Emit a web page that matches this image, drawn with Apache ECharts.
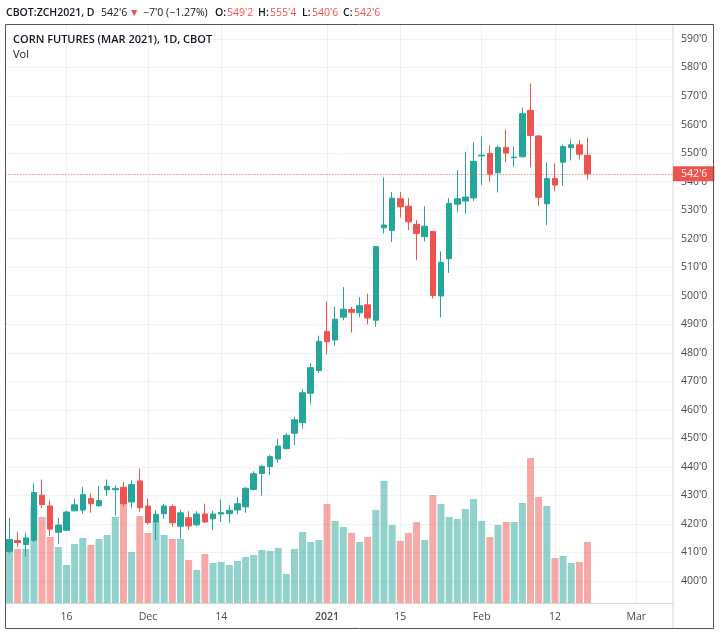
<!DOCTYPE html>
<html>
<head>
<meta charset="utf-8">
<style>
  html, body { margin: 0; padding: 0; background: #fff; }
  #main { width: 720px; height: 635px; }
</style>
<script src="https://cdn.jsdelivr.net/npm/echarts@6/dist/echarts.min.js"></script>
</head>
<body>
<div id="main"></div>
<script>
window.onload = function () {
    let myChart = echarts.init(document.getElementById('main'));

    // date, open, close, low, high, volume
    let rows = [
        ['2020-11-05', 410.4, 414.6, 409.6, 422.2, 54],
        ['2020-11-06', 414.2, 413.5, 412.0, 417.3, 54],
        ['2020-11-09', 412.8, 415.1, 408.5, 417.0, 54],
        ['2020-11-10', 414.3, 431.0, 413.7, 434.2, 98],
        ['2020-11-11', 430.1, 426.8, 425.6, 435.6, 86],
        ['2020-11-12', 426.3, 418.2, 415.8, 428.3, 66],
        ['2020-11-13', 417.1, 419.6, 413.1, 422.2, 56],
        ['2020-11-16', 417.8, 424.2, 417.6, 424.7, 38],
        ['2020-11-17', 424.6, 426.7, 424.5, 428.9, 59],
        ['2020-11-18', 424.9, 430.3, 423.6, 433.0, 65],
        ['2020-11-19', 428.9, 427.1, 423.9, 430.7, 58],
        ['2020-11-20', 426.4, 428.2, 426.0, 433.2, 64],
        ['2020-11-23', 432.0, 433.2, 429.8, 435.6, 68],
        ['2020-11-24', 432.0, 432.5, 423.0, 433.5, 86],
        ['2020-11-25', 432.9, 427.1, 426.2, 434.7, 102],
        ['2020-11-27', 427.7, 433.8, 425.5, 435.3, 51],
        ['2020-11-30', 435.1, 425.7, 424.2, 439.4, 87],
        ['2020-12-01', 426.3, 420.5, 419.9, 428.9, 70],
        ['2020-12-02', 420.7, 423.4, 414.3, 424.8, 82],
        ['2020-12-03', 423.6, 426.3, 421.8, 427.1, 68],
        ['2020-12-04', 426.1, 420.4, 419.0, 426.8, 64],
        ['2020-12-07', 419.2, 423.9, 414.9, 425.0, 64],
        ['2020-12-08', 422.2, 419.3, 418.0, 424.5, 43],
        ['2020-12-09', 419.7, 423.5, 419.2, 424.5, 33],
        ['2020-12-10', 423.5, 420.7, 420.4, 427.1, 49],
        ['2020-12-11', 421.8, 423.5, 417.8, 424.6, 40],
        ['2020-12-14', 423.5, 424.0, 420.7, 428.6, 41],
        ['2020-12-15', 423.6, 424.8, 420.4, 426.6, 38],
        ['2020-12-16', 424.9, 427.1, 423.4, 429.3, 42],
        ['2020-12-17', 426.0, 432.5, 423.9, 433.0, 46],
        ['2020-12-18', 432.1, 437.6, 431.8, 438.5, 48],
        ['2020-12-21', 437.7, 440.2, 429.9, 440.7, 53],
        ['2020-12-22', 440.1, 443.6, 437.2, 444.2, 52],
        ['2020-12-23', 442.8, 447.3, 441.5, 449.8, 55],
        ['2020-12-24', 446.4, 451.1, 446.2, 451.8, 29],
        ['2020-12-28', 451.8, 456.5, 447.7, 457.6, 54],
        ['2020-12-29', 455.5, 466.0, 453.4, 467.3, 71],
        ['2020-12-30', 465.8, 474.8, 462.1, 476.3, 61],
        ['2020-12-31', 473.8, 484.0, 472.9, 486.0, 63],
        ['2021-01-04', 487.5, 483.9, 479.4, 498.0, 99],
        ['2021-01-05', 484.5, 491.8, 482.5, 496.1, 82],
        ['2021-01-06', 492.5, 495.3, 491.4, 503.0, 76],
        ['2021-01-07', 495.2, 494.2, 487.1, 496.1, 70],
        ['2021-01-08', 494.0, 496.5, 492.4, 499.5, 61],
        ['2021-01-11', 496.8, 492.2, 490.0, 500.7, 66],
        ['2021-01-12', 491.4, 517.2, 489.1, 517.4, 93],
        ['2021-01-13', 523.8, 524.8, 521.8, 541.5, 122],
        ['2021-01-14', 522.9, 534.2, 518.8, 536.4, 78],
        ['2021-01-15', 534.0, 531.2, 527.5, 536.4, 62],
        ['2021-01-19', 531.4, 525.9, 523.0, 534.3, 70],
        ['2021-01-20', 525.0, 521.8, 512.5, 526.5, 81],
        ['2021-01-21', 520.7, 524.4, 519.0, 531.4, 63],
        ['2021-01-22', 522.5, 500.1, 499.0, 522.7, 108],
        ['2021-01-25', 499.9, 511.7, 492.4, 515.5, 99],
        ['2021-01-26', 513.0, 532.4, 508.0, 534.2, 86],
        ['2021-01-27', 532.1, 534.0, 529.4, 544.0, 84],
        ['2021-01-28', 533.2, 534.6, 528.7, 550.5, 94],
        ['2021-01-29', 534.3, 547.1, 533.2, 553.9, 104],
        ['2021-02-01', 549.0, 549.3, 538.8, 555.7, 82],
        ['2021-02-02', 549.9, 542.6, 540.0, 552.7, 66],
        ['2021-02-03', 543.1, 552.0, 536.2, 552.7, 78],
        ['2021-02-04', 552.0, 550.0, 546.8, 558.3, 81],
        ['2021-02-05', 548.4, 548.6, 545.2, 552.3, 81],
        ['2021-02-08', 548.7, 563.8, 548.5, 566.0, 100],
        ['2021-02-09', 565.0, 556.2, 545.0, 574.4, 145],
        ['2021-02-10', 556.0, 534.5, 531.5, 556.3, 106],
        ['2021-02-11', 532.2, 541.1, 524.8, 546.7, 97],
        ['2021-02-12', 541.1, 538.8, 536.6, 546.4, 45],
        ['2021-02-16', 546.8, 552.3, 538.6, 553.0, 47],
        ['2021-02-17', 551.9, 552.9, 547.4, 554.8, 40],
        ['2021-02-18', 552.9, 549.6, 547.8, 554.6, 41],
        ['2021-02-19', 549.25, 542.75, 540.75, 555.5, 61]
    ];
    // empty days on the right of the last candle
    let future = ['2021-02-22', '2021-02-23', '2021-02-24', '2021-02-25', '2021-02-26',
        '2021-03-01', '2021-03-02', '2021-03-03', '2021-03-04', '2021-03-05'];

    let dates = rows.map(r => r[0]).concat(future);
    let tickNames = {
        '2020-11-16': '16', '2020-12-01': 'Dec', '2020-12-14': '14', '2021-01-04': '2021',
        '2021-01-15': '15', '2021-02-01': 'Feb', '2021-02-12': '12', '2021-03-01': 'Mar'
    };
    let isTick = function (index, value) { return tickNames[value] !== undefined; };

    let priceTicks = [400, 410, 420, 430, 440, 450, 460, 470, 480, 490,
        500, 510, 520, 530, 540, 550, 560, 570, 580, 590];

    const up = '#26a69a';
    const down = '#ef5350';
    const font = '"Open Sans", sans-serif';

    // header line above the chart
    let header = [
        ['CBOT:ZCH2021, D', 6, '#131722', 600],
        ["542'6", 101, '#131722', 400],
        ['▼', 129, down, 400],
        ["−7'0 (−1.27%)", 143, '#131722', 400],
        ['O:', 215, '#131722', 600],
        ["549'2", 227, down, 400],
        ['H:', 258, '#131722', 600],
        ["555'4", 270, down, 400],
        ['L:', 302, '#131722', 600],
        ["540'6", 312, down, 400],
        ['C:', 343, '#131722', 600],
        ["542'6", 354, down, 400]
    ].map(h => ({
        type: 'text', left: h[1], top: 8, silent: true,
        style: { text: h[0], fill: h[2], fontSize: 10.5, fontWeight: h[3], fontFamily: font }
    }));

    let option = {
        animation: false,
        backgroundColor: '#fff',
        textStyle: { fontFamily: font },
        graphic: header.concat([
            {
                type: 'text', left: 13, top: 34, silent: true, z: 50,
                style: { text: 'CORN FUTURES (MAR 2021), 1D, CBOT', fill: '#131722', fontSize: 11, fontWeight: 600, fontFamily: font }
            },
            {
                type: 'text', left: 13, top: 49, silent: true, z: 50,
                style: { text: 'Vol', fill: '#131722', fontSize: 11, fontFamily: font }
            },
            {
                type: 'line', silent: true,
                shape: { x1: 673, y1: 25, x2: 673, y2: 628 },
                style: { stroke: '#d6d6d6', lineWidth: 1 }
            },
            {
                type: 'rect', silent: true, z: 100,
                shape: { x: 5.5, y: 24.5, width: 708, height: 604 },
                style: { fill: 'none', stroke: '#555', lineWidth: 1 }
            }
        ]),
        grid: { left: 5.43, top: 25, width: 667.57, height: 578 },
        xAxis: {
            type: 'category',
            data: dates,
            axisLine: { lineStyle: { color: '#d6d6d6' } },
            axisTick: { alignWithLabel: true, interval: isTick, length: 3, lineStyle: { color: '#d6d6d6' } },
            axisLabel: {
                interval: isTick,
                margin: 9,
                fontSize: 10.5,
                color: '#4a4a4a',
                formatter: function (value) {
                    return value === '2021-01-04' ? '{b|2021}' : tickNames[value];
                },
                rich: { b: { fontSize: 10.5, fontWeight: 600, color: '#4a4a4a' } }
            },
            splitLine: { show: true, alignWithLabel: true, interval: isTick, lineStyle: { color: '#f1f1f3' } }
        },
        yAxis: [
            {
                type: 'value',
                position: 'right',
                min: 392.3,
                max: 594.9,
                axisLine: { show: false },
                axisTick: { show: false, customValues: priceTicks },
                axisLabel: {
                    customValues: priceTicks,
                    margin: 8,
                    fontSize: 10.5,
                    color: '#4a4a4a',
                    formatter: function (v) { return v + "'0"; }
                },
                splitLine: { lineStyle: { color: '#f1f1f3' } }
            },
            // volume scale, only used for the height of the bars
            { type: 'value', min: 0, max: 578, show: false, splitLine: { show: false } }
        ],
        series: [
            {
                name: 'Vol',
                type: 'bar',
                yAxisIndex: 1,
                barWidth: 7,
                z: 1,
                data: rows.map(r => ({
                    value: r[5],
                    itemStyle: { color: r[2] >= r[1] ? 'rgba(38,166,154,0.5)' : 'rgba(239,83,80,0.5)' }
                }))
            },
            {
                name: 'ZCH2021',
                type: 'candlestick',
                barWidth: 6,
                z: 2,
                itemStyle: { color: up, color0: down, borderColor: up, borderColor0: down, borderWidth: 1 },
                data: rows.map(r => [r[1], r[2], r[3], r[4]]),
                markLine: {
                    silent: true,
                    symbol: 'none',
                    animation: false,
                    lineStyle: { color: down, type: [1, 2], width: 1, opacity: 1 },
                    label: {
                        position: 'end',
                        distance: 0,
                        formatter: "542'6",
                        color: '#fff',
                        fontSize: 10.5,
                        backgroundColor: down,
                        padding: [2, 7, 2, 8]
                    },
                    data: [{ yAxis: 542.75 }]
                }
            }
        ]
    };
    myChart.setOption(option);
}
</script>
</body>
</html>
